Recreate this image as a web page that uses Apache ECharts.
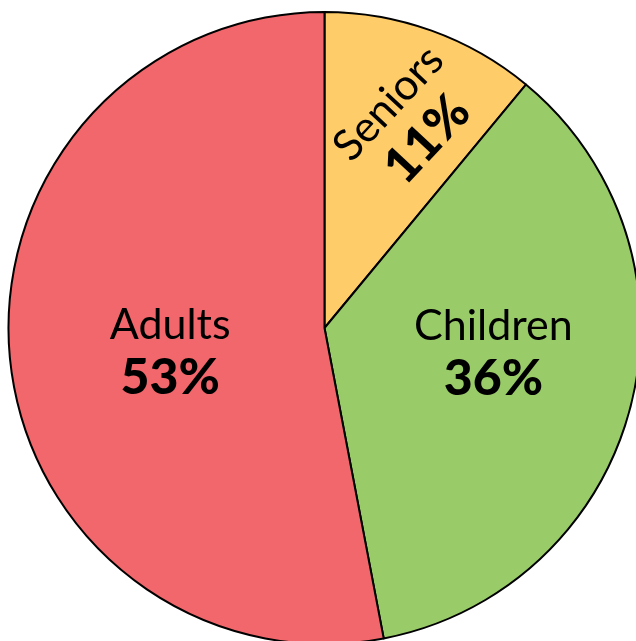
<!DOCTYPE html>
<html>
<head>
<meta charset="utf-8">
<script src="https://cdn.jsdelivr.net/npm/echarts@6/dist/echarts.min.js"></script>
<style>
html,body{margin:0;padding:0;background:#fff;}
#chart{width:636px;height:641px;}
</style>
</head>
<body>
<div id="chart"></div>
<script>
var categories = ['Seniors', 'Children', 'Adults'];
var percents = [11, 36, 53];
var colors = ['#FECC69', '#9ACB69', '#F1676B'];
var labelOffsets = [[60, -16], [13, -15], [6, 9]];
var labelRotations = [47, 0, 0];

var chart = echarts.init(document.getElementById('chart'), null, {renderer: 'canvas'});
var data = categories.map(function (c, i) {
  return {
    name: c,
    value: percents[i],
    itemStyle: {color: colors[i]},
    label: {rotate: labelRotations[i]}
  };
});
chart.setOption({
  animation: false,
  series: [{
    type: 'pie',
    center: [324.5, 328],
    radius: [0, 316],
    startAngle: 90,
    clockwise: true,
    data: data,
    itemStyle: {borderColor: '#000', borderWidth: 2},
    emphasis: {disabled: true},
    label: {
      show: true,
      position: 'inside',
      formatter: function (p) { return '{n|' + p.name + '}\n{v|' + p.value + '%}'; },
      rich: {
        n: {fontFamily: 'Lato', fontSize: 43, color: '#000', lineHeight: 52, align: 'center'},
        v: {fontFamily: 'Lato', fontSize: 50, fontWeight: 900, color: '#000', lineHeight: 54, align: 'center'}
      }
    },
    labelLine: {show: false},
    labelLayout: function (params) {
      var o = labelOffsets[params.dataIndex];
      return {dx: o[0], dy: o[1]};
    }
  }]
});
</script>
</body>
</html>
